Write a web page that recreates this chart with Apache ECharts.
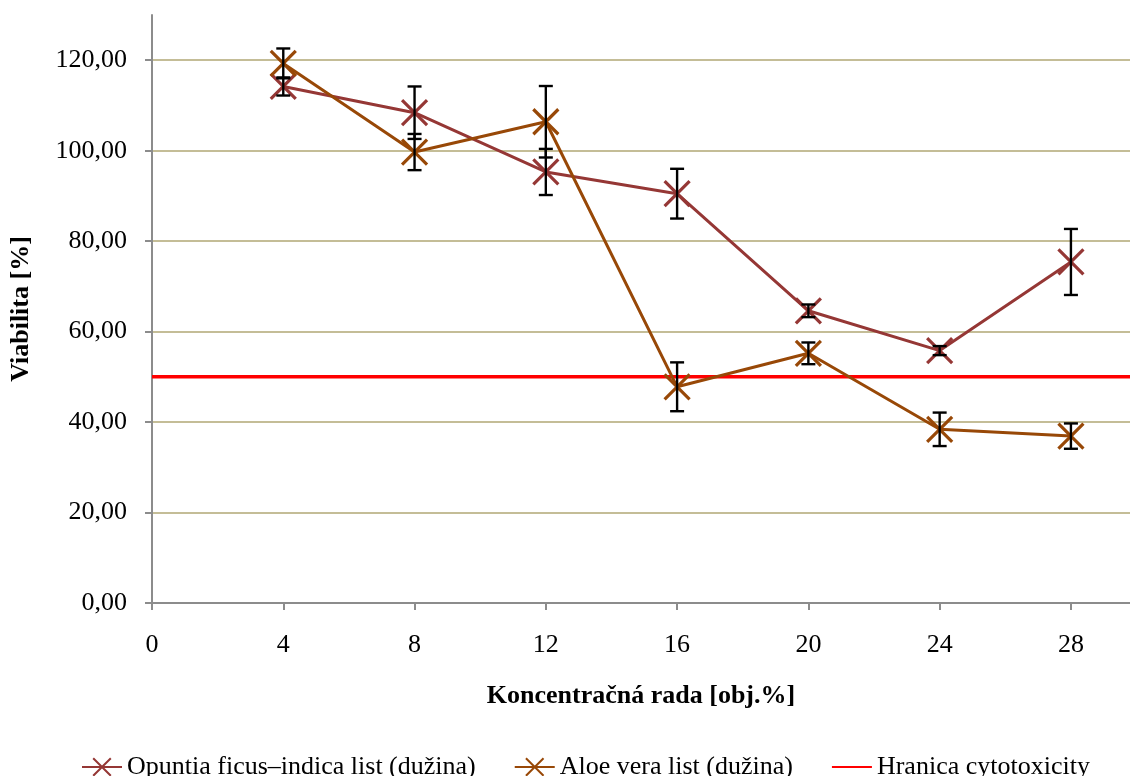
<!DOCTYPE html>
<html><head><meta charset="utf-8">
<script src="https://cdn.jsdelivr.net/npm/echarts@6/dist/echarts.min.js"></script>
<style>html,body{margin:0;padding:0;background:#fff}#c{width:1130px;height:776px}</style>
</head><body><div id="c"></div>
<script>
const concentrations = [4, 8, 12, 16, 20, 24, 28];
const opuntia = [114.2, 108.4, 95.3, 90.5, 64.6, 55.8, 75.4];
const opuntiaErr = [2.0, 5.8, 5.1, 5.5, 1.4, 1.0, 7.3];
const aloe = [119.3, 99.7, 106.4, 47.8, 55.2, 38.4, 36.9];
const aloeErr = [3.3, 4.0, 7.9, 5.4, 2.4, 3.7, 2.8];
const cytotoxLimit = 50;
const xTicks = [0, 4, 8, 12, 16, 20, 24, 28];
const yTicks = [0, 20, 40, 60, 80, 100, 120];
const names = ['Opuntia ficus–indica list (dužina)', 'Aloe vera list (dužina)', 'Hranica cytotoxicity'];
const colors = ['#953735', '#984807', '#ff0000'];

const X_MIN = 0, X_MAX = 29.8, Y_MIN = 0, Y_MAX = 130;
const FONT = 'Liberation Serif';
const FS = 26;
const xSym = 'path://M0,0L100,100M100,0L0,100';

function pts(vals) { return concentrations.map((x, i) => [x, vals[i]]); }
function errData(vals, errs) { return concentrations.map((x, i) => [x, vals[i] - errs[i], vals[i] + errs[i]]); }

function errSeries(vals, errs) {
  return {
    type: 'custom', silent: true, z: 5,
    data: errData(vals, errs),
    renderItem: function (params, api) {
      const x = api.value(0);
      const lo = api.coord([x, api.value(1)]);
      const hi = api.coord([x, api.value(2)]);
      const w = 7;
      const st = { stroke: '#000', lineWidth: 2.4 };
      return { type: 'group', children: [
        { type: 'line', shape: { x1: lo[0], y1: lo[1], x2: hi[0], y2: hi[1] }, style: st },
        { type: 'line', shape: { x1: lo[0] - w, y1: lo[1], x2: lo[0] + w, y2: lo[1] }, style: st },
        { type: 'line', shape: { x1: hi[0] - w, y1: hi[1], x2: hi[0] + w, y2: hi[1] }, style: st }
      ]};
    }
  };
}

function lineSeries(idx, vals) {
  return {
    name: names[idx], type: 'line', data: pts(vals), z: 4,
    symbol: xSym, symbolSize: 25,
    lineStyle: { color: colors[idx], width: 3 },
    itemStyle: { color: 'rgba(0,0,0,0)', borderColor: colors[idx], borderWidth: 3.2 },
    emphasis: { disabled: true }
  };
}

const chart = echarts.init(document.getElementById('c'));
chart.setOption({
  animation: false,
  textStyle: { fontFamily: FONT },
  grid: { left: 152, right: 0, top: 15, bottom: 173, containLabel: false },
  legend: {
    bottom: -9, left: 76, itemWidth: 40, itemHeight: 22, itemGap: 38,
    textStyle: { fontFamily: FONT, fontSize: FS, color: '#000' },
    data: names
  },
  xAxis: {
    type: 'value', min: X_MIN, max: X_MAX, interval: 4,
    name: 'Koncentračná rada [obj.%]', nameLocation: 'middle', nameGap: 80,
    nameTextStyle: { fontFamily: FONT, fontSize: FS, fontWeight: 'bold', color: '#000' },
    axisLine: { lineStyle: { color: '#8c8c8c', width: 2 } },
    axisTick: { show: true, length: 7, lineStyle: { color: '#8c8c8c', width: 2 }, customValues: xTicks },
    axisLabel: { fontFamily: FONT, fontSize: FS, color: '#000', margin: 29, customValues: xTicks },
    splitLine: { show: false }
  },
  yAxis: {
    type: 'value', min: Y_MIN, max: Y_MAX, interval: 20,
    name: 'Viabilita [%]', nameLocation: 'middle', nameGap: 118,
    nameTextStyle: { fontFamily: FONT, fontSize: FS, fontWeight: 'bold', color: '#000' },
    axisLine: { show: true, lineStyle: { color: '#8c8c8c', width: 2 } },
    axisTick: { show: true, length: 7, lineStyle: { color: '#8c8c8c', width: 2 }, customValues: yTicks },
    axisLabel: { fontFamily: FONT, fontSize: FS, color: '#000', margin: 25, customValues: yTicks,
      formatter: v => v.toFixed(2).replace('.', ',') },
    splitLine: { show: true, lineStyle: { color: '#c4bd97', width: 2 } }
  },
  series: [
    lineSeries(0, opuntia),
    lineSeries(1, aloe),
    {
      name: names[2], type: 'line', data: [[X_MIN, cytotoxLimit], [X_MAX, cytotoxLimit]],
      symbol: 'circle', showSymbol: false, z: 3,
      lineStyle: { color: colors[2], width: 3.5 }, itemStyle: { color: 'rgba(0,0,0,0)' }
    },
    errSeries(opuntia, opuntiaErr),
    errSeries(aloe, aloeErr)
  ]
});
</script></body></html>
